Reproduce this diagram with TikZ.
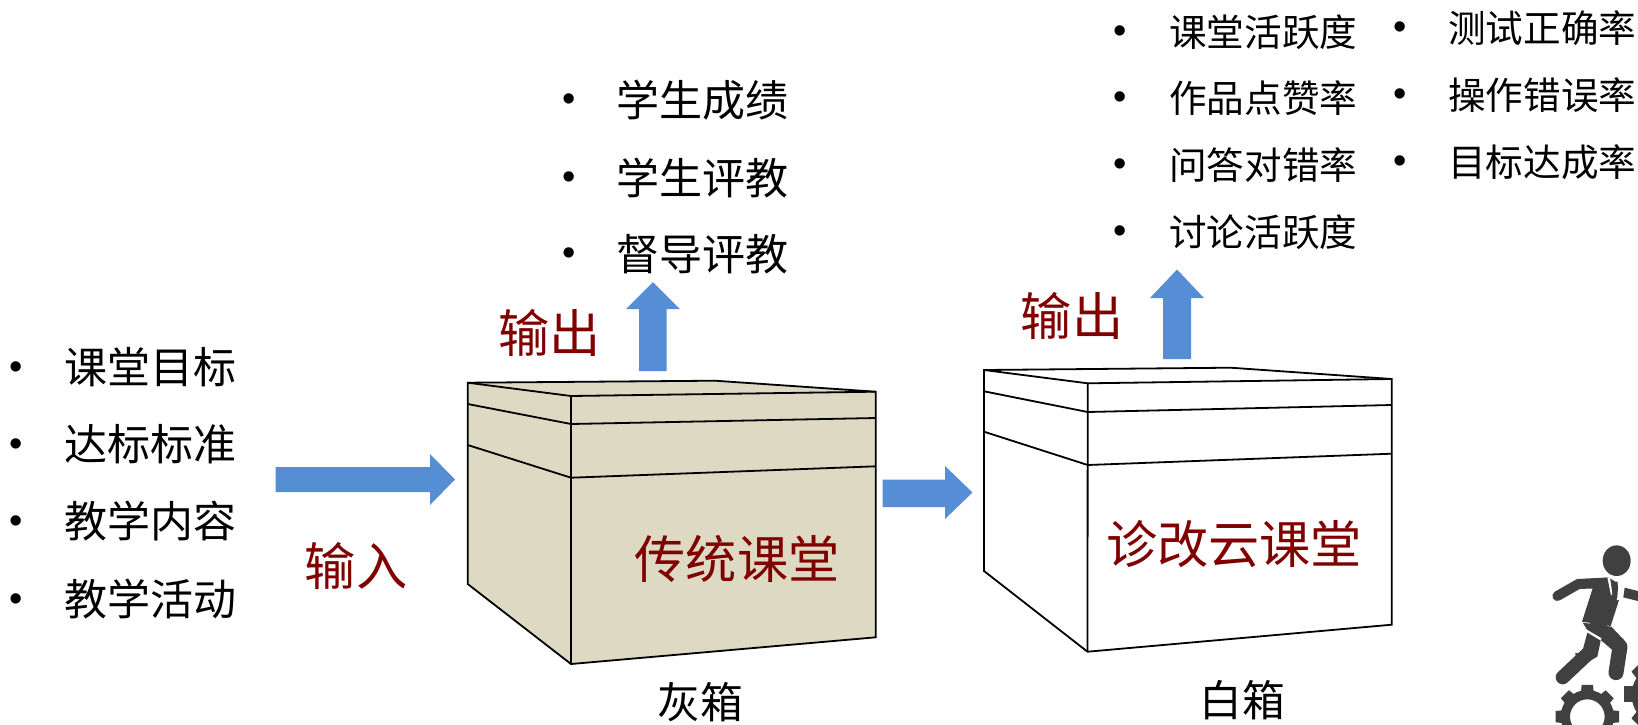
\documentclass[tikz,border=0pt]{standalone}
\usepackage{fontspec}
\setmainfont{Noto Sans CJK SC}
\newfontfamily\bulletfont{Liberation Sans}
\definecolor{arrowblue}{HTML}{558ED5}
\definecolor{boxtan}{HTML}{DDD9C3}
\definecolor{darkred}{HTML}{800000}
\definecolor{figdark}{HTML}{404040}
\tikzset{
  listitem/.style={anchor=west,inner sep=0pt,font=\fontsize{43pt}{46pt}\selectfont,text=black},
  listsmall/.style={anchor=west,inner sep=0pt,font=\fontsize{37.6pt}{40pt}\selectfont,text=black},
  bulletmark/.style={anchor=center,inner sep=0pt,yshift=-3pt,font=\bulletfont\fontsize{38pt}{40pt}\selectfont,text=black},
  redlabel/.style={anchor=center,inner sep=0pt,font=\fontsize{51.2pt}{54pt}\selectfont,text=darkred},
  caption/.style={anchor=center,inner sep=0pt,font=\fontsize{42.8pt}{46pt}\selectfont,text=black},
  blockarrow/.style={fill=arrowblue,draw=none},
  boxline/.style={draw=black,line width=1.8pt,line join=miter},
  figpart/.style={fill=figdark,draw=none},
  figlimb/.style={draw=figdark,line cap=round,line join=round},
}
\begin{document}
\begin{tikzpicture}[x=1pt,y=-1pt]
\useasboundingbox (0,0) rectangle (1638,724);
\fill[white] (0,0) rectangle (1638,724);

% left list
\foreach \n/\y/\t in {a/367.7/课堂目标,b/445/达标标准,c/522/教学内容,d/600/教学活动}{
  \node[bulletmark] (inb\n) at (16,\y) {•};
  \node[listitem] (in\n) at (64,\y-1) {\t};
}
% gray box output list
\foreach \n/\y/\t in {a/100/学生成绩,b/177.6/学生评教,c/254/督导评教}{
  \node[bulletmark] (grb\n) at (569,\y) {•};
  \node[listitem] (gr\n) at (616.5,\y) {\t};
}
% white box output lists
\foreach \n/\y/\t in {a/32/课堂活跃度,b/98/作品点赞率,c/165/问答对错率,d/232/讨论活跃度}{
  \node[bulletmark] (wab\n) at (1120,\y) {•};
  \node[listsmall] (wa\n) at (1169,\y) {\t};
}
\foreach \n/\y/\t in {a/28/测试正确率,b/95/操作错误率,c/162/目标达成率}{
  \node[bulletmark] (wbb\n) at (1400,\y) {•};
  \node[listsmall] (wb\n) at (1448,\y) {\t};
}

% block arrows
\fill[blockarrow] (275.5,467)--(430,467)--(430,454)--(455,479.5)--(430,505)--(430,492)--(275.5,492)--cycle;
\fill[blockarrow] (882.5,479.5)--(945,479.5)--(945,466)--(972.5,492.5)--(945,519)--(945,507)--(882.5,507)--cycle;
\fill[blockarrow] (639,371)--(639,309)--(626,309)--(653,282)--(680,309)--(666.5,309)--(666.5,371)--cycle;
\fill[blockarrow] (1163,359)--(1163,298)--(1150,298)--(1177,269.5)--(1204,298)--(1191,298)--(1191,359)--cycle;

% gray box
\path[fill=boxtan,boxline] (467.7,382.7)--(715,380.7)--(875.7,391.7)--(875.7,637.3)--(571,664)--(467.7,584)--cycle;
\draw[boxline] (467.7,382.7)--(571,396)--(875.7,391.7);
\draw[boxline] (571,396)--(571,664);
\draw[boxline] (467.7,404)--(571,424)--(875.7,418);
\draw[boxline] (467.7,445)--(571,477.7)--(875.7,466.3);

% white box
\path[fill=white,boxline] (984,370)--(1230.7,367.7)--(1391.7,379)--(1391.7,624.7)--(1087.5,651.7)--(984,571)--cycle;
\draw[boxline] (984,370)--(1087.7,383.3)--(1391.7,379);
\draw[boxline] (1087.7,383.3)--(1087.5,651.7);
\draw[boxline] (984,391.3)--(1087.7,412)--(1391.7,405);
\draw[boxline] (984,431.7)--(1087.7,465)--(1391.7,453.7);

% labels
\node[redlabel] (outa) at (549.5,333) {输出};
\node[redlabel] (outb) at (1072,315.5) {输出};
\node[redlabel] (inp) at (356,566) {输入};
\node[redlabel] (trad) at (737,559) {传统课堂};
\node[redlabel] (cloud) at (1234,544) {诊改云课堂};
\node[caption] (gray) at (700,702) {灰箱};
\node[caption] (white) at (1242,700) {白箱};

% running figure on gears
\begin{scope}
\clip (1500,520) rectangle (1638,724);
\begin{scope}[shift={(1500,520)},x=0.3333pt,y=-0.3333pt]
  \fill[figpart] (350,122) ellipse [x radius=42,y radius=46];
  % left arm
  \draw[figlimb,line width=10pt] (172,228)--(235,192)--(290,190);
  % torso
  \fill[figpart] (228,178)--(325,172)--(370,200)--(332,318)--(246,305)--(278,205)--cycle;
  % shirt and tie
  \fill[white] (322,172)--(330,172)--(337,222)--(333,226)--cycle;
  \fill[white] (352,186)--(368,198)--(355,238)--(350,235)--cycle;
  \fill[figpart] (340,188)--(352,184)--(354,200)--(352,232)--(345,240)--(338,222)--cycle;
  % right arm
  \fill[white] (368,198)--(376,200)--(362,240)--(350,240)--cycle;
  \fill[figpart] (374,203)--(414,213)--(414,243)--(370,232)--cycle;
  % legs
  \draw[figlimb,line width=15pt] (290,320)--(360,380)--(348,458);
  \fill[figpart] (248,308)--(334,320)--(372,360)--(320,372)--(262,330)--cycle;
  \fill[white] (258,335)--(262,330)--(305,355)--(300,362)--cycle;
  \fill[figpart] (262,338)--(302,362)--(292,410)--(240,440)--(225,400)--(246,398)--cycle;
  \draw[figlimb,line width=14pt] (270,395)--(188,472);
  % gears
  \foreach \a in {0,45,...,315}{
    \fill[figpart,rotate around={\a:(262,590)}] (245,495)--(279,495)--(282,525)--(242,525)--cycle;
  }
  \fill[figpart,even odd rule] (262,590) circle [radius=80] (262,590) circle [radius=52];
  \foreach \a in {0,45,...,315}{
    \fill[figpart,rotate around={\a:(490,525)}] (472,408)--(508,408)--(512,440)--(468,440)--cycle;
  }
  \fill[figpart] (372,497)--(420,497)--(420,545)--(372,545)--cycle;
  \fill[figpart,even odd rule] (490,525) circle [radius=95] (490,525) circle [radius=65];
\end{scope}
\end{scope}
\end{tikzpicture}
\end{document}
